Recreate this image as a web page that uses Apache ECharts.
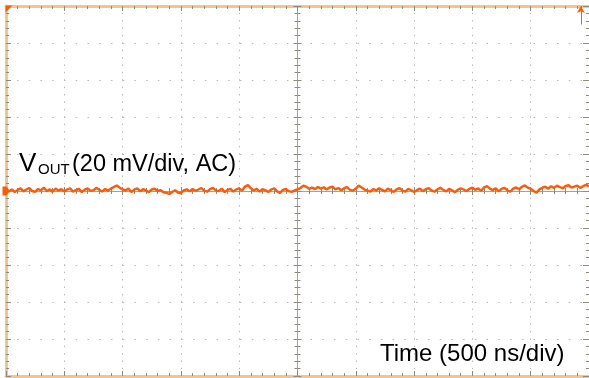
<!DOCTYPE html>
<html>
<head>
<meta charset="utf-8">
<script src="https://cdn.jsdelivr.net/npm/echarts@6/dist/echarts.min.js"></script>
<style>
html,body{margin:0;padding:0;background:#fff;}
#c{width:589px;height:378px;}
</style>
</head>
<body>
<div id="c"></div>
<script>
// Axis ranges (oscilloscope divisions)
const timeMin = -2500, timeMax = 2500, timeDiv = 500;   // ns, 500 ns/div
const voltMin = -100, voltMax = 100, voltDiv = 20;       // mV, 20 mV/div
const sampleStepNs = 25;

// VOUT trace (mV, AC coupled), one sample every 25 ns
const voutMv = [
  1.2,-0.3,0.9,-0.6,0.6,1.4,-0.2,0.8,1.6,0.0,-0.5,1.1,0.3,1.9,-0.1,0.9,-0.4,1.3,0.2,1.0,
  -0.2,0.8,1.5,-0.4,0.5,1.2,-0.6,0.7,1.4,0.1,0.4,1.7,0.6,-0.3,1.1,0.2,1.3,2.2,3.0,1.8,
  0.9,0.2,1.3,-0.5,0.7,1.5,-0.1,1.0,0.3,-0.6,0.8,1.2,0.0,0.5,-0.7,-1.0,-1.6,-0.5,0.4,-0.8,
  -1.2,0.3,0.9,-0.2,1.1,0.1,0.8,1.6,0.2,-0.4,1.0,1.7,0.3,-0.1,1.3,-0.6,0.6,1.2,-0.3,0.9,
  1.4,0.2,2.4,3.2,1.5,0.3,1.2,-0.3,1.0,0.4,-0.6,0.8,1.5,-0.2,-1.0,0.6,1.1,-0.1,-0.5,0.3,
  0.9,
  1.6,2.9,2.3,1.2,1.9,1.0,2.2,1.3,2.0,0.8,1.9,2.4,0.9,1.6,0.4,1.5,2.1,0.6,0.2,1.3,
  2.9,1.9,0.8,0.2,-0.4,1.1,0.3,1.5,0.6,-0.2,1.3,0.5,-0.5,0.9,1.6,0.2,-0.3,1.2,0.4,-0.6,
  0.5,1.3,-0.1,1.0,1.5,0.3,-0.4,0.8,1.7,0.6,-0.2,1.2,0.4,-0.7,0.7,1.5,0.8,-0.1,1.2,1.8,
  0.6,1.4,0.1,2.0,2.6,1.3,0.5,1.5,-0.2,1.1,1.7,0.4,-0.4,1.3,1.9,0.9,2.3,3.0,1.8,1.2,
  0.0,-0.9,0.9,1.8,2.3,1.2,2.6,1.7,2.9,2.1,1.5,2.7,3.1,1.8,2.4,2.9,1.7,2.6,3.3,2.5
];

// Marker positions (data units)
const groundLevelMv = [0];
const triggerTimeNs = [2430];
const triggerArrowMv = [90, 100];

// Labels
const labelMain = 'V';
const labelSub = 'OUT';
const labelRest = '(20 mV/div, AC)';
const labelTime = 'Time (500 ns/div)';

const traceData = voutMv.map((v, i) => [timeMin + i * sampleStepNs, v]);

const ORANGE = '#ff5a05';
const BORDER = '#f6c487';
const DOT = '#b9b9b2';
const CENTER = '#a8a294';
const TICK = '#8f8a7e';
const FONT = '"Liberation Sans", Arial, sans-serif';

function xAx(pos, onZero, opts) {
  return Object.assign({
    type: 'value', min: timeMin, max: timeMax, interval: timeDiv, position: pos,
    axisLabel: { show: false },
    axisLine: { show: true, onZero: onZero, onZeroAxisIndex: 0, lineStyle: { color: CENTER, width: 1 } },
    axisTick: { show: true, inside: true, length: 4, lineStyle: { color: TICK, width: 1 } },
    minorTick: { show: true, splitNumber: 5, length: 3, lineStyle: { color: TICK, width: 1 } },
    splitLine: { show: false }
  }, opts || {});
}
function yAx(pos, onZero, opts) {
  return Object.assign({
    type: 'value', min: voltMin, max: voltMax, interval: voltDiv, position: pos,
    axisLabel: { show: false },
    axisLine: { show: true, onZero: onZero, onZeroAxisIndex: 0, lineStyle: { color: CENTER, width: 1 } },
    axisTick: { show: true, inside: true, length: 4, lineStyle: { color: TICK, width: 1 } },
    minorTick: { show: true, splitNumber: 5, length: 3, lineStyle: { color: TICK, width: 1 } },
    splitLine: { show: false }
  }, opts || {});
}

const chart = echarts.init(document.getElementById('c'), null, { renderer: 'canvas' });
chart.setOption({
  animation: false,
  backgroundColor: '#ffffff',
  grid: { left: 6, top: 6, width: 587, height: 370, containLabel: false },
  xAxis: [
    xAx('bottom', false, {
      axisLine: { show: true, onZero: false, lineStyle: { color: BORDER, width: 3 } },
      axisTick: { show: true, inside: true, length: 5, lineStyle: { color: TICK, width: 1 } },
      splitLine: { show: true, lineStyle: { color: DOT, width: 1, type: [1.5, 5.9], dashOffset: 0.75 } }
    }),
    xAx('top', false, {
      axisLine: { show: true, onZero: false, lineStyle: { color: BORDER, width: 3 } },
      axisTick: { show: true, inside: true, length: 5, lineStyle: { color: TICK, width: 1 } }
    }),
    xAx('bottom', true),
    xAx('top', true, { axisLine: { show: false, onZero: true, onZeroAxisIndex: 0 } })
  ],
  yAxis: [
    yAx('left', false, {
      axisLine: { show: true, onZero: false, lineStyle: { color: BORDER, width: 3 } },
      axisTick: { show: true, inside: true, length: 5, lineStyle: { color: TICK, width: 1 } },
      splitLine: { show: true, lineStyle: { color: DOT, width: 1, type: [1.5, 10.24], dashOffset: 0.75 } }
    }),
    yAx('right', false, {
      axisLine: { show: false, onZero: false },
      axisTick: { show: true, inside: true, length: 6, lineStyle: { color: TICK, width: 1 } }
    }),
    yAx('left', true),
    yAx('right', true, { axisLine: { show: false, onZero: true, onZeroAxisIndex: 0 } })
  ],
  series: [{
    type: 'line',
    xAxisIndex: 0, yAxisIndex: 0,
    data: traceData,
    showSymbol: false,
    symbol: 'none',
    lineStyle: { color: ORANGE, width: 2.4 },
    z: 5,
    markPoint: {
      silent: true,
      label: { show: false },
      data: [
        { coord: [timeMin, voltMax], symbol: 'path://M0,0 L10,0 L0,10 Z', symbolSize: 7, symbolOffset: [3, 3], itemStyle: { color: ORANGE } },
        { coord: [timeMin, groundLevelMv[0]], symbol: 'path://M0,0 L6,0 L10,5 L6,10 L0,10 Z', symbolSize: [7, 9], symbolOffset: [0, 0], itemStyle: { color: ORANGE } }
      ]
    },
    markLine: {
      silent: true,
      symbol: ['none', 'arrow'],
      symbolSize: [6, 7],
      label: { show: false },
      lineStyle: { color: ORANGE, width: 1, type: 'solid' },
      data: [[{ coord: [triggerTimeNs[0], triggerArrowMv[0]] }, { coord: [triggerTimeNs[0], triggerArrowMv[1]] }]]
    }
  }],
  graphic: [
    { type: 'text', x: 19, y: 164, z: 10, style: { text: labelMain, font: '26px ' + FONT, fill: '#000', verticalAlign: 'middle' } },
    { type: 'text', x: 38, y: 170, z: 10, style: { text: labelSub, font: '15px ' + FONT, fill: '#000', verticalAlign: 'middle' } },
    { type: 'text', x: 72, y: 165, z: 10, style: { text: labelRest, font: '23.5px ' + FONT, fill: '#000', verticalAlign: 'middle' } },
    { type: 'text', x: 380, y: 354, z: 10, style: { text: labelTime, font: '24px ' + FONT, fill: '#000', verticalAlign: 'middle' } }
  ]
});
</script>
</body>
</html>
